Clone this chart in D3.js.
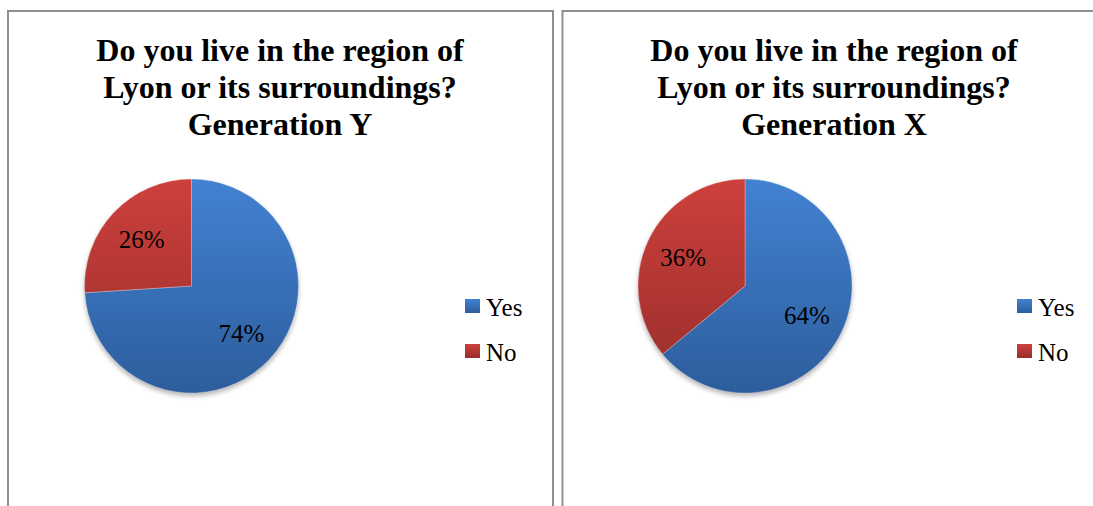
<!DOCTYPE html>
<html>
<head>
<meta charset="utf-8">
<script src="https://cdn.jsdelivr.net/npm/d3@7"></script>
<style>
  html, body { margin: 0; padding: 0; background: #fff; }
  svg { display: block; }
</style>
</head>
<body>
<svg id="chart" width="1093" height="506"></svg>
<script>
// Survey answers, one pie per generation
const categories = ["Yes", "No"];
const generationY = [74, 26];
const generationX = [64, 36];
const titleLines = ["Do you live in the region of", "Lyon or its surroundings?"];
const generationNames = ["Generation Y", "Generation X"];

const panels = [
  { name: generationNames[0], values: generationY, x: 8, w: 545, cx: 191.5, cy: 286, titleX: 280, legendX: 465 },
  { name: generationNames[1], values: generationX, x: 562.5, w: 600, cx: 745, cy: 286, titleX: 834, legendX: 1017 }
];

const svg = d3.select("#chart");
const defs = svg.append("defs");

const radius = 107;
const topColors = { Yes: "#4282d2", No: "#cd403c" };
const bottomColors = { Yes: "#2d5d9c", No: "#972d2a" };

// Soft drop shadow under each pie
const shadow = defs.append("filter").attr("id", "pieShadow")
  .attr("x", "-20%").attr("y", "-20%").attr("width", "140%").attr("height", "140%");
shadow.append("feGaussianBlur").attr("stdDeviation", 2.5);

// Legend swatch gradients
categories.forEach(c => {
  const g = defs.append("linearGradient").attr("id", "sw-" + c)
    .attr("x1", 0).attr("y1", 0).attr("x2", 0).attr("y2", 1);
  g.append("stop").attr("offset", "0%").attr("stop-color", topColors[c]);
  g.append("stop").attr("offset", "100%").attr("stop-color", bottomColors[c]);
});

const pie = d3.pie().sort(null).value(d => d.value);
const arc = d3.arc().innerRadius(0).outerRadius(radius);
const labelArc = d3.arc().innerRadius(radius * 0.64).outerRadius(radius * 0.64);
const color = d3.scaleOrdinal().domain(categories).range(categories.map(c => topColors[c]));

panels.forEach((p, i) => {
  // Panel frame
  svg.append("rect")
    .attr("x", p.x).attr("y", 11).attr("width", p.w).attr("height", 540)
    .attr("fill", "#fff").attr("stroke", "#8f8f8f").attr("stroke-width", 2);

  // Title
  const title = svg.append("text")
    .attr("text-anchor", "middle")
    .attr("font-family", "'Liberation Serif', 'Times New Roman', serif")
    .attr("font-weight", "bold").attr("font-size", 32).attr("fill", "#000");
  titleLines.concat([p.name]).forEach((line, k) => {
    title.append("tspan").attr("x", p.titleX).attr("y", 61 + k * 37.2).text(line);
  });

  // Gradients spanning the whole pie, top to bottom
  categories.forEach(c => {
    const g = defs.append("linearGradient").attr("id", `pie${i}-${c}`)
      .attr("gradientUnits", "userSpaceOnUse")
      .attr("x1", 0).attr("y1", -radius).attr("x2", 0).attr("y2", radius);
    g.append("stop").attr("offset", "0%").attr("stop-color", color(c));
    g.append("stop").attr("offset", "100%").attr("stop-color", bottomColors[c]);
  });

  const data = categories.map((c, k) => ({ key: c, value: p.values[k] }));
  const gPie = svg.append("g").attr("transform", `translate(${p.cx},${p.cy})`);

  gPie.append("circle")
    .attr("cx", 0).attr("cy", 3).attr("r", radius)
    .attr("fill", "#000").attr("opacity", 0.3)
    .attr("filter", "url(#pieShadow)");

  const slices = pie(data);
  gPie.selectAll("path.slice").data(slices).join("path")
    .attr("class", "slice")
    .attr("d", arc)
    .attr("fill", d => `url(#pie${i}-${d.data.key})`)
    .attr("stroke", "rgba(255,255,255,0.35)").attr("stroke-width", 0.8);

  gPie.selectAll("text.pct").data(slices).join("text")
    .attr("class", "pct")
    .attr("transform", d => `translate(${labelArc.centroid(d)})`)
    .attr("text-anchor", "middle").attr("dy", "0.35em")
    .attr("font-family", "'Liberation Serif', 'Times New Roman', serif")
    .attr("font-size", 25).attr("fill", "#000")
    .text(d => d.data.value + "%");

  // Legend
  const leg = svg.append("g").attr("transform", `translate(${p.legendX},0)`);
  categories.forEach((c, k) => {
    leg.append("rect")
      .attr("x", 0).attr("y", 299 + k * 45).attr("width", 15).attr("height", 14)
      .attr("fill", `url(#sw-${c})`);
    leg.append("text")
      .attr("x", 21).attr("y", 316 + k * 45)
      .attr("font-family", "'Liberation Serif', 'Times New Roman', serif")
      .attr("font-size", 25).attr("fill", "#000")
      .text(c);
  });
});
</script>
</body>
</html>
